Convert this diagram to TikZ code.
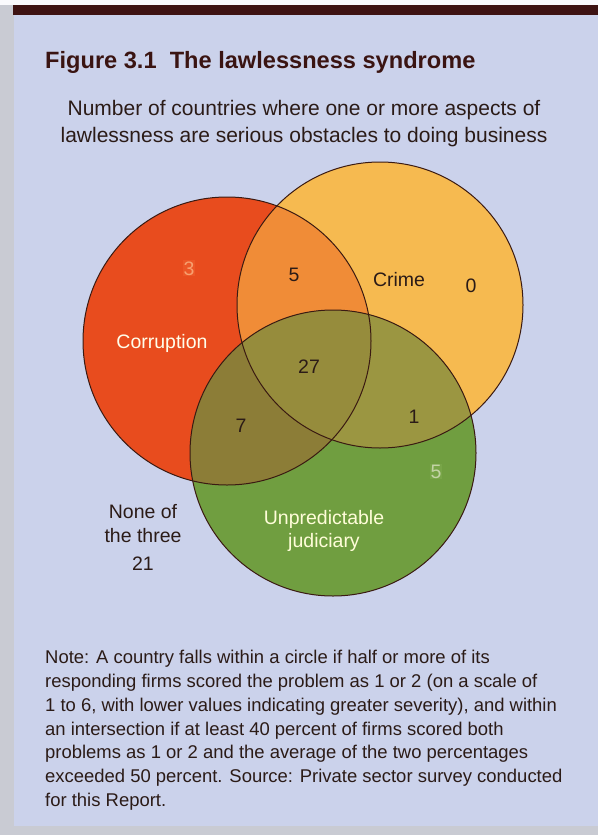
\documentclass[tikz,border=0pt]{standalone}
\usepackage{fontspec}
\setmainfont{Liberation Sans}
\definecolor{bgcol}{HTML}{CBD2EB}
\definecolor{edgecol}{HTML}{C9CBD3}
\definecolor{barcol}{HTML}{3E1313}
\definecolor{titlecol}{HTML}{3A1412}
\definecolor{darktxt}{HTML}{2B1B17}
\definecolor{redc}{HTML}{E84C1E}
\definecolor{crimec}{HTML}{F6BA50}
\definecolor{greenc}{HTML}{709E40}
\definecolor{rcc}{HTML}{F08C37}
\definecolor{rgc}{HTML}{8C7D37}
\definecolor{cgc}{HTML}{9B9641}
\definecolor{allc}{HTML}{968C3C}
\definecolor{outline}{HTML}{3A1A12}
\definecolor{threetxt}{HTML}{F7A070}
\definecolor{threebox}{HTML}{EC5626}
\definecolor{fivetxt}{HTML}{C3D3A6}
\definecolor{fivebox}{HTML}{78A548}
\begin{document}
\begin{tikzpicture}[x=1pt,y=-1pt,
  lbl/.style={inner sep=0pt, anchor=base, font=\fontsize{19.5}{20}\selectfont, text=darktxt},
  notel/.style={inner sep=0pt, anchor=base west, font=\fontsize{18.45}{20}\selectfont, text=darktxt},
  subl/.style={inner sep=0pt, anchor=base, font=\fontsize{21}{22}\selectfont, text=darktxt},
  ring/.style={draw=outline, line width=1pt}]
\useasboundingbox (0,0) rectangle (598,835);
% background
\fill[bgcol] (0,0) rectangle (598,835);
\fill[edgecol] (0,0) rectangle (14,835);
\fill[edgecol] (0,826) rectangle (598,835);
\fill[white!90!bgcol] (0,0) rectangle (598,5);
\fill[barcol] (13,5) rectangle (598,15);
% circle centres
\coordinate (R) at (227,341);
\coordinate (C) at (380,305);
\coordinate (G) at (333,453);
% fills
\fill[redc] (R) circle[radius=144pt];
\fill[crimec] (C) circle[radius=143pt];
\fill[greenc] (G) circle[radius=143pt];
\begin{scope}
  \clip (C) circle[radius=143pt];
  \fill[cgc] (G) circle[radius=143pt];
\end{scope}
\begin{scope}
  \clip (R) circle[radius=144pt];
  \fill[rcc] (C) circle[radius=143pt];
  \fill[rgc] (G) circle[radius=143pt];
  \clip (C) circle[radius=143pt];
  \fill[allc] (G) circle[radius=143pt];
\end{scope}
\draw[ring] (R) circle[radius=144pt];
\draw[ring] (C) circle[radius=143pt];
\draw[ring] (G) circle[radius=143pt];
% title
\node[inner sep=0pt, anchor=base west, font=\fontsize{23.6}{24}\selectfont\bfseries, text=titlecol] (title) at (45,68) {Figure 3.1\ \ The lawlessness syndrome};
\node[subl] (sub1) at (304,115) {Number of countries where one or more aspects of};
\node[subl] (sub2) at (304,142) {lawlessness are serious obstacles to doing business};
% labels
\node[lbl, text=threetxt, fill=threebox, inner sep=1pt] (n3) at (189,275) {3};
\node[lbl] (n5a) at (294,281) {5};
\node[lbl] (crime) at (399,286) {Crime};
\node[lbl] (n0) at (471,292) {0};
\node[lbl, text=white!92!yellow] (corr) at (162,348) {Corruption};
\node[lbl] (n27) at (309,373) {27};
\node[lbl] (n7) at (241,432) {7};
\node[lbl] (n1) at (414,423) {1};
\node[lbl, text=fivetxt, fill=fivebox, inner sep=1pt] (n5b) at (436,478) {5};
\node[lbl, text=white!85!yellow] (unp) at (324,524) {Unpredictable};
\node[lbl, text=white!85!yellow] (jud) at (324,547) {judiciary};
\node[lbl] (none1) at (143,518) {None of};
\node[lbl] (none2) at (143,542) {the three};
\node[lbl] (none3) at (143,570) {21};
% note
\node[notel] (note1) at (45,663) {Note: A country falls within a circle if half or more of its};
\node[notel] (note2) at (45,687) {responding firms scored the problem as 1 or 2 (on a scale of};
\node[notel] (note3) at (45,711) {1 to 6, with lower values indicating greater severity), and within};
\node[notel] (note4) at (45,735) {an intersection if at least 40 percent of firms scored both};
\node[notel] (note5) at (45,758) {problems as 1 or 2 and the average of the two percentages};
\node[notel] (note6) at (45,782) {exceeded 50 percent. Source: Private sector survey conducted};
\node[notel] (note7) at (45,806) {for this Report.};
\end{tikzpicture}
\end{document}
